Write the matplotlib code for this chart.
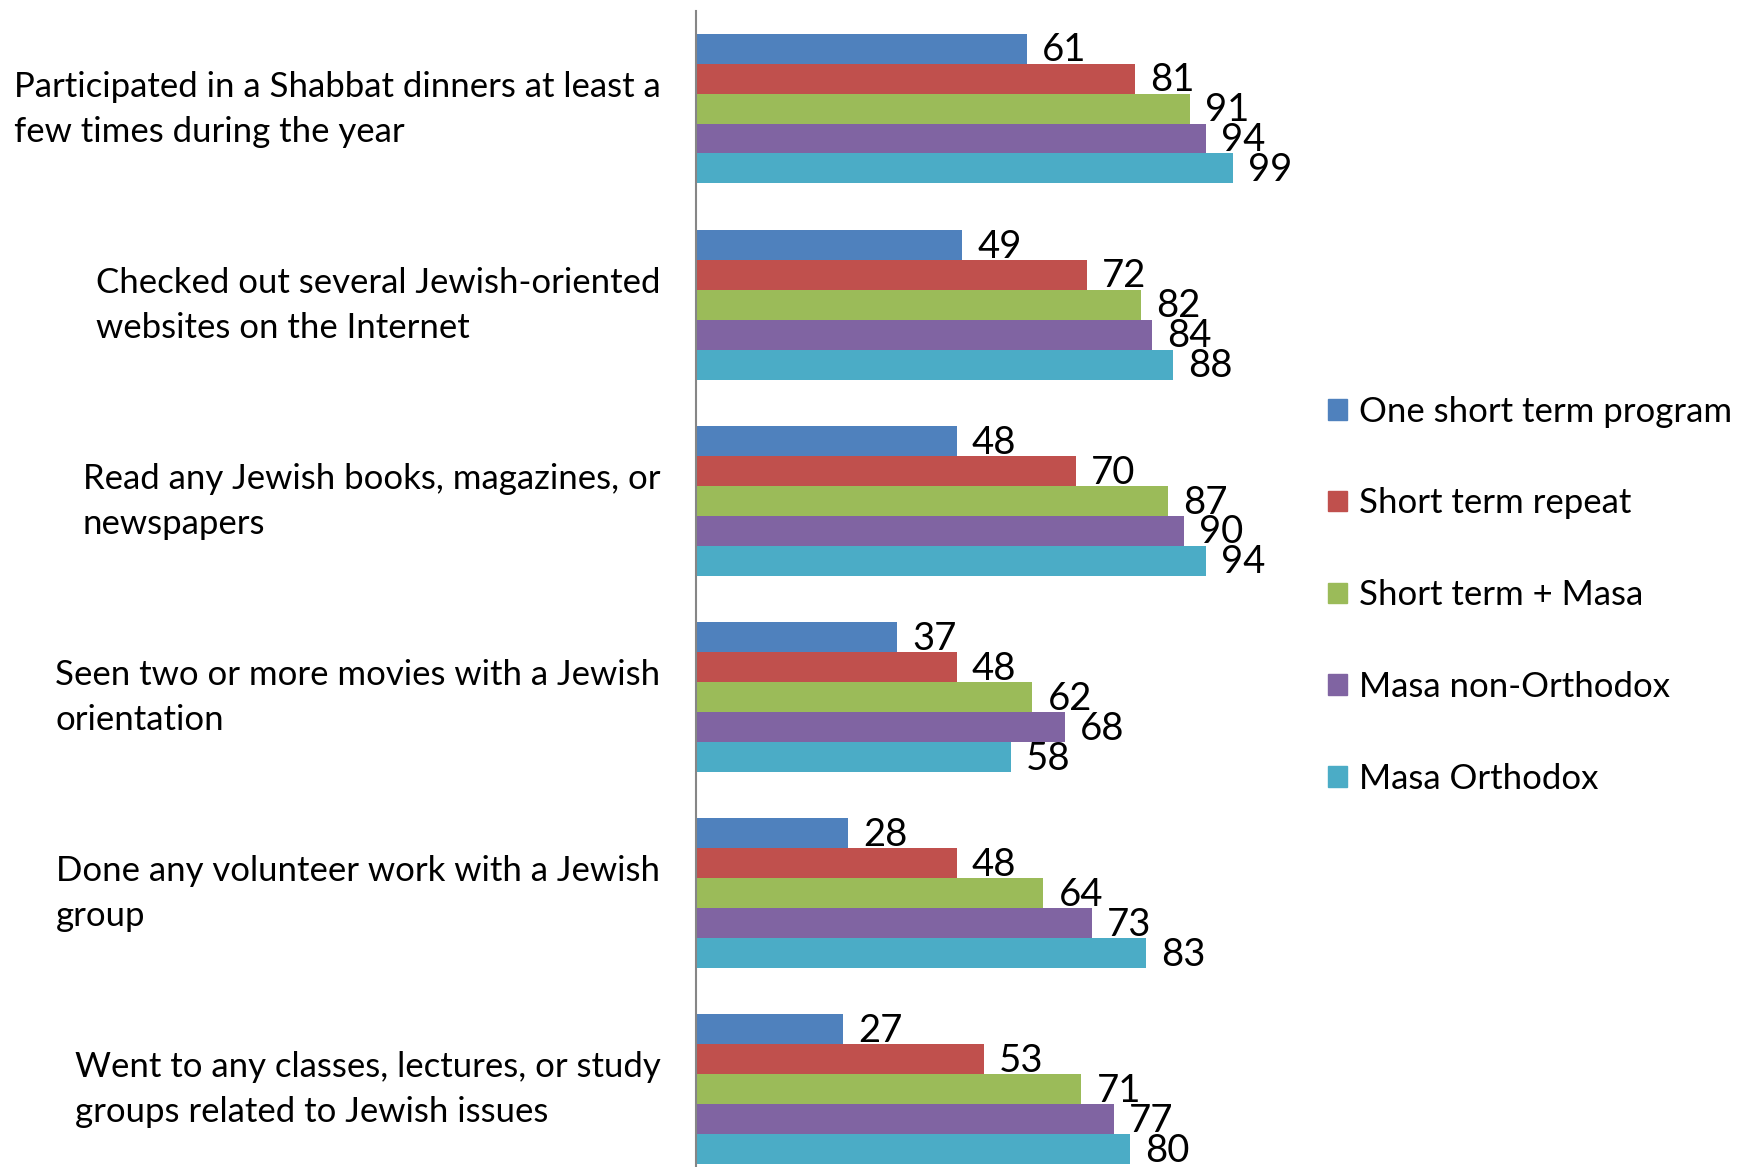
import matplotlib
matplotlib.use("Agg")
import matplotlib.pyplot as plt
from matplotlib.patches import Patch
import numpy as np

plt.rcParams['font.family'] = ['Lato', 'DejaVu Sans']

categories = [
    "Participated in a Shabbat dinners at least a\nfew times during the year",
    "Checked out several Jewish-oriented\nwebsites on the Internet",
    "Read any Jewish books, magazines, or\nnewspapers",
    "Seen two or more movies with a Jewish\norientation",
    "Done any volunteer work with a Jewish\ngroup",
    "Went to any classes, lectures, or study\ngroups related to Jewish issues",
]
series_names = ["One short term program", "Short term repeat", "Short term + Masa",
                "Masa non-Orthodox", "Masa Orthodox"]
one_short = [61, 49, 48, 37, 28, 27]
short_repeat = [81, 72, 70, 48, 48, 53]
short_masa = [91, 82, 87, 62, 64, 71]
masa_non_orth = [94, 84, 90, 68, 73, 77]
masa_orth = [99, 88, 94, 58, 83, 80]
series = [one_short, short_repeat, short_masa, masa_non_orth, masa_orth]
colors = ["#4F81BD", "#C0504D", "#9BBB59", "#8064A2", "#4BACC6"]

fig = plt.figure(figsize=(17.41, 11.67), dpi=100)
ax = fig.add_axes([0.4, 0.0, 0.3113, 0.991])

bh = 0.153
y = np.arange(len(categories))
for k, vals in enumerate(series):
    pos = y - 2 * bh + k * bh
    ax.barh(pos, vals, height=bh, color=colors[k], label=series_names[k])
    for p, v in zip(pos, vals):
        ax.text(v + 2.8, p + 0.01, str(v), va='center', ha='left', fontsize=27.5, clip_on=False)

ax.set_xlim(0, 100)
ax.set_ylim(5.4, -0.5)
# labels sit a bit above the group centre, like the original
ax.set_yticks(y - 0.045)
ax.set_yticklabels(categories, fontsize=25, multialignment='left', linespacing=1.5)
ax.tick_params(axis='y', length=0, pad=26)
ax.set_xticks([])
for s in ['top', 'right', 'bottom']:
    ax.spines[s].set_visible(False)
ax.spines['left'].set_color('#868686')
ax.spines['left'].set_linewidth(1.5)

handles = [Patch(color=c) for c in colors]
fig.legend(handles, series_names, loc='center left', bbox_to_anchor=(0.745, 0.49),
           frameon=False, fontsize=25, handlelength=0.53, handleheight=0.53,
           handletextpad=0.35, labelspacing=1.72)

fig.savefig("out.png", dpi=100)
